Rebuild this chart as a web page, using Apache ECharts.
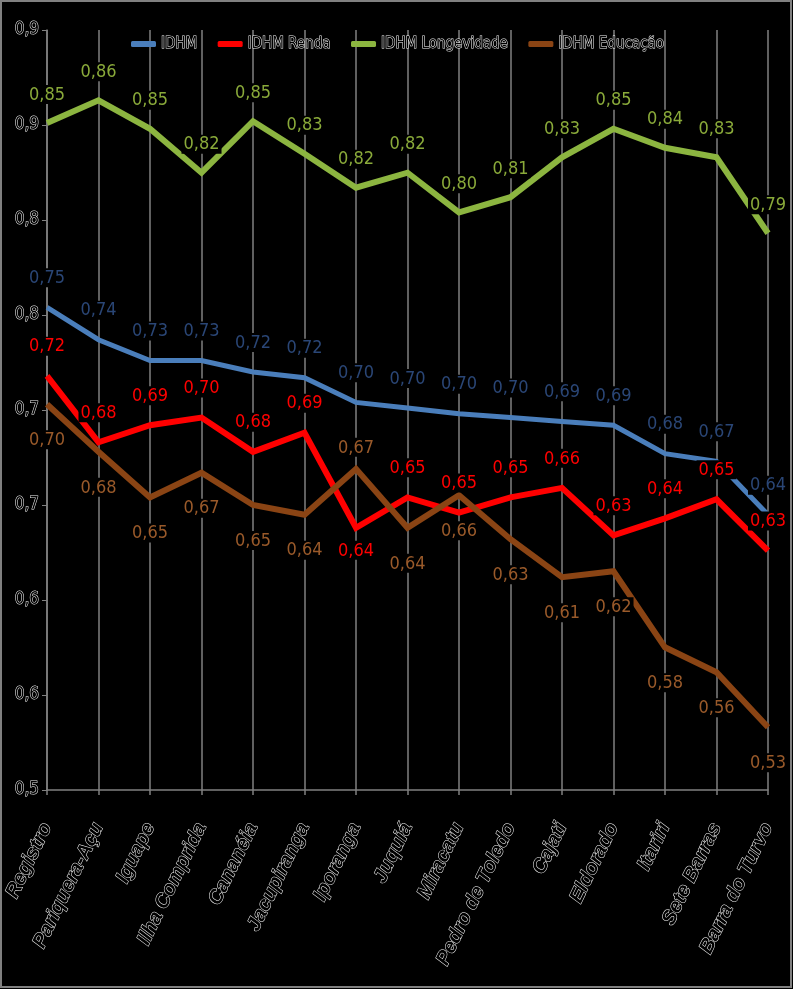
<!DOCTYPE html>
<html><head><meta charset="utf-8">
<script src="https://cdn.jsdelivr.net/npm/echarts@6/dist/echarts.min.js"></script>
<style>html,body{margin:0;padding:0;background:#000;}#c{width:793px;height:989px;}</style>
</head><body><div id="c"></div>
<script>
const categories = ['Registro','Pariquera-Açu','Iguape','Ilha Comprida','Cananéia','Jacupiranga','Iporanga','Juquiá','Miracatu','Pedro de Toledo','Cajati','Eldorado','Itariri','Sete Barras','Barra do Turvo'];
const seriesNames = ['IDHM','IDHM Renda','IDHM Longevidade','IDHM Educação'];
const idhm   = [0.754,0.737,0.726,0.726,0.720,0.717,0.704,0.701,0.698,0.696,0.694,0.692,0.677,0.673,0.6449];
const renda  = [0.718,0.683,0.692,0.696,0.678,0.688,0.638,0.654,0.646,0.654,0.659,0.634,0.643,0.653,0.626];
const longev = [0.851,0.863,0.848,0.8249,0.852,0.8349,0.817,0.8249,0.804,0.812,0.833,0.848,0.838,0.833,0.793];
const educ   = [0.703,0.678,0.654,0.667,0.650,0.6449,0.669,0.638,0.6551,0.632,0.612,0.6151,0.5751,0.562,0.533];
const yMin = 0.5, yMax = 0.9, yStep = 0.05;

// label placement (styling, separate from the data)
const T='top', B='bottom';
const posIdhm   = Array(15).fill(T);
const posRenda  = [T,T,T,T,T,T,B,T,T,T,T,T,T,T,T];
const posLongev = Array(15).fill(T);
const posEduc   = [B,B,B,B,B,B,T,B,B,B,B,B,B,B,B];

const NARROW = '"Liberation Sans Narrow","DejaVu Sans Condensed","Roboto Condensed",sans-serif';
const fmt = v => (Math.round(v*100)/100).toFixed(2).replace('.', ',');
const hollow = {color:'#000', textBorderColor:'#f0f0f0', textBorderWidth:1};

function mk(name, vals, pos, lineColor, labelColor, width, dTop, dBot){
  return {
    name, type:'line', data: vals.map((v,i)=>({value:v, label:{position:pos[i], distance: pos[i]===T?dTop:dBot}})),
    symbol:'circle', symbolSize:0.1, itemStyle:{color:lineColor},
    lineStyle:{color:lineColor, width, join:'miter', cap:'butt'},
    label:{show:true, formatter:p=>fmt(p.value), color:labelColor, fontFamily:NARROW, fontSize:18,
      backgroundColor:'#000', padding:[1,2,0,2]},
    emphasis:{disabled:true}, animation:false
  };
}

const chart = echarts.init(document.getElementById('c'), null, {renderer:'canvas'});
chart.setOption({
  backgroundColor:'#000',
  animation:false,
  graphic:[{type:'rect', shape:{x:1,y:1,width:790,height:986}, style:{fill:'none', stroke:'#808080', lineWidth:2}, z:100}],
  legend:{
    data:seriesNames, left:126, top:31, itemWidth:25, itemHeight:6, itemGap:20, icon:'roundRect',
    textStyle:Object.assign({fontFamily:NARROW, fontSize:15}, hollow)
  },
  grid:{left:47, right:25, top:30, bottom:199, containLabel:false},
  xAxis:{
    type:'category', data:categories, boundaryGap:false,
    axisLine:{show:true, lineStyle:{color:'#808080', width:1.5}},
    axisTick:{show:true, length:5, lineStyle:{color:'#808080', width:1.5}},
    splitLine:{show:true, lineStyle:{color:'#808080', width:1.5}},
    axisLabel:Object.assign({rotate:64, margin:34, interval:0,
      fontFamily:'"Liberation Sans",Arial,sans-serif', fontStyle:'italic', fontWeight:'bold', fontSize:20}, hollow)
  },
  yAxis:{
    type:'value', min:yMin, max:yMax, interval:yStep,
    axisLine:{show:true, lineStyle:{color:'#808080', width:1.5}},
    axisTick:{show:true, length:5, lineStyle:{color:'#808080'}},
    splitLine:{show:false},
    axisLabel:Object.assign({margin:8, fontFamily:NARROW, fontSize:17,
      formatter:v=>(Math.round(v*10+1e-9)/10).toFixed(1).replace('.', ',')}, hollow)
  },
  series:[
    mk('IDHM', idhm, posIdhm, '#4a7ebb', '#2a4676', 5, 20, 12),
    mk('IDHM Renda', renda, posRenda, '#ff0000', '#ff0000', 6, 20, 13),
    mk('IDHM Longevidade', longev, posLongev, '#8cb540', '#8aaa3a', 6, 19, 12),
    mk('IDHM Educação', educ, posEduc, '#8a4414', '#9a5a2a', 6, 12, 26)
  ]
});
</script></body></html>
